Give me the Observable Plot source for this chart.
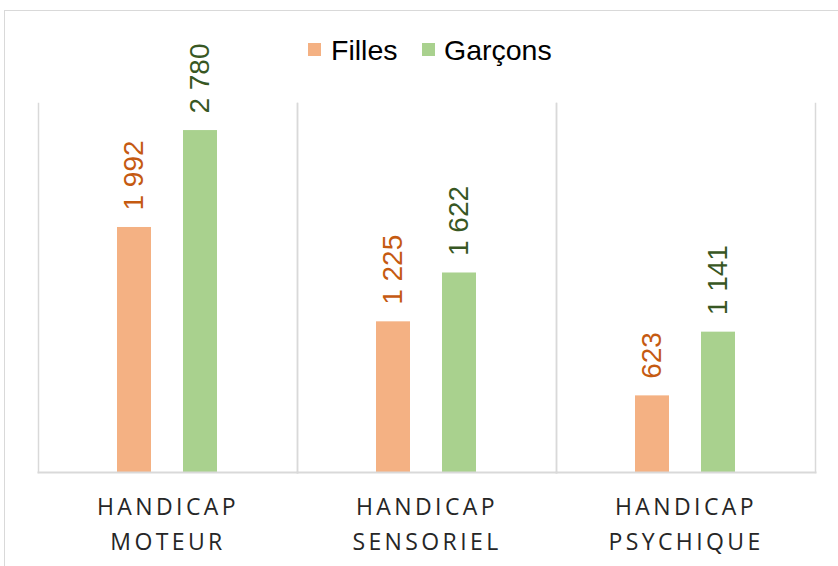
<!DOCTYPE html>
<html>
<head>
<meta charset="utf-8">
<script src="https://cdn.jsdelivr.net/npm/d3@7"></script>
<script src="https://cdn.jsdelivr.net/npm/@observablehq/plot@0.6"></script>
<style>
  html, body { margin: 0; padding: 0; background: #fff; overflow: hidden; }
  #wrap { position: relative; width: 838px; height: 566px; }
  #border { position: absolute; left: 4px; top: 10px; width: 900px; height: 700px; border: 1.5px solid #d9d9d9; box-sizing: border-box; }
  #chart { position: absolute; left: 0; top: 0; }
  .sw { position: absolute; width: 13px; height: 13px; top: 43px; }
  .lt { position: absolute; top: 36px; font-family: "Liberation Sans", Arial, sans-serif; font-size: 28.5px; line-height: 28.5px; color: #000; white-space: nowrap; }
  g[aria-label="fx-axis tick label"] text { letter-spacing: 3.4px; }
</style>
</head>
<body>
<div id="wrap">
  <div id="border"></div>
  <div id="chart"></div>
  <div id="legend"></div>
</div>
<script>
const categories = ["HANDICAP MOTEUR", "HANDICAP SENSORIEL", "HANDICAP PSYCHIQUE"];
const series = ["Filles", "Garçons"];
const filles = [1992, 1225, 623];
const garcons = [2780, 1622, 1141];
const barColors = ["#F4B183", "#A9D18E"];
const labelColors = ["#C55A11", "#385723"];

const data = [];
categories.forEach((c, i) => {
  data.push({cat: c, sex: series[0], value: filles[i]});
  data.push({cat: c, sex: series[1], value: garcons[i]});
});

const fmt = v => d3.format(",")(v).replace(/,/g, " ");

const chart = Plot.plot({
  width: 838,
  height: 566,
  marginLeft: 37,
  marginRight: 23,
  marginTop: 103,
  marginBottom: 94,
  style: {fontFamily: "'Liberation Sans', Arial, sans-serif", background: "transparent"},
  fx: {domain: categories, padding: 0, label: null},
  x: {domain: series, paddingInner: 0.478, paddingOuter: 1.176, axis: null},
  y: {domain: [0, 3000], axis: null},
  color: {domain: series, range: barColors},
  marks: [
    Plot.frame({anchor: "left", stroke: "#d9d9d9", strokeWidth: 1.5}),
    Plot.frame({anchor: "right", stroke: "#d9d9d9", strokeWidth: 1.5}),
    Plot.barY(data, {fx: "cat", x: "sex", y: "value", fill: "sex"}),
    Plot.frame({anchor: "bottom", stroke: "#d9d9d9", strokeWidth: 2}),
    Plot.text(data, {
      fx: "cat", x: "sex", y: "value",
      text: d => fmt(d.value),
      rotate: -90, textAnchor: "start", lineAnchor: "middle",
      dy: -17, fontSize: 28,
      fill: d => labelColors[series.indexOf(d.sex)]
    }),
    Plot.axisFx({
      anchor: "bottom", tickSize: 0, tickPadding: 18, fontSize: 23,
      fontFamily: "'Open Sans', sans-serif",
      lineHeight: 1.52, fill: "#262626", label: null,
      tickFormat: d => d.replace(" ", "\n")
    })
  ]
});
document.getElementById("chart").appendChild(chart);

const legend = document.getElementById("legend");
const swLeft = [308, 422];
const textLeft = [331, 444];
series.forEach((s, i) => {
  const sw = document.createElement("span");
  sw.className = "sw";
  sw.style.left = swLeft[i] + "px";
  sw.style.background = barColors[i];
  legend.appendChild(sw);
  const t = document.createElement("span");
  t.className = "lt";
  t.style.left = textLeft[i] + "px";
  t.textContent = s;
  legend.appendChild(t);
});
</script>
</body>
</html>
